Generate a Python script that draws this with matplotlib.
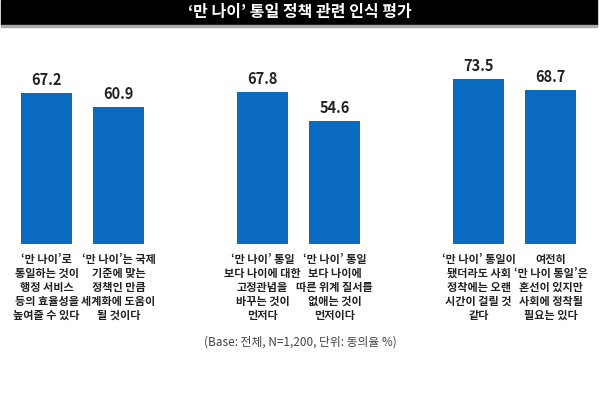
import numpy as np
import matplotlib.pyplot as plt
from matplotlib.patches import Rectangle

plt.rcParams['font.family'] = ['Noto Sans CJK KR', 'DejaVu Sans']

title = "‘만 나이’ 통일 정책 관련 인식 평가"
positions = [0, 1, 3, 4, 6, 7]
values = [67.2, 60.9, 67.8, 54.6, 73.5, 68.7]
value_labels = ["67.2", "60.9", "67.8", "54.6", "73.5", "68.7"]
categories = [
    "‘만 나이’로\n통일하는 것이\n행정 서비스\n등의 효율성을\n높여줄 수 있다",
    "‘만 나이’는 국제\n기준에 맞는\n정책인 만큼\n세계화에 도움이\n될 것이다",
    "‘만 나이’ 통일\n보다 나이에 대한\n고정관념을\n바꾸는 것이\n먼저다",
    "‘만 나이’ 통일\n보다 나이에\n따른 위계 질서를\n없애는 것이\n먼저이다",
    "‘만 나이’ 통일이\n됐더라도 사회\n정착에는 오랜\n시간이 걸릴 것\n같다",
    "여전히\n‘만 나이 통일’은\n혼선이 있지만\n사회에 정착될\n필요는 있다",
]
note = "(Base: 전체, N=1,200, 단위: 동의율 %)"

fig = plt.figure(figsize=(6, 3.95), dpi=100)
ax = fig.add_axes([0, 0, 1, 1])
ax.set_xlim(-0.646, 7.6875)
ax.set_ylim(-67.2, 108.6)
ax.axis('off')

ax.bar(positions, values, width=0.71, color='#0a6ac0')
for x, v, lab in zip(positions, values, value_labels):
    ax.text(x, v + 2.2, lab, ha='center', va='bottom', fontsize=10.5,
            fontweight='bold', color='#222222')
for x, cat in zip(positions, categories):
    ax.text(x, -4.0, cat, ha='center', va='top', fontsize=8, fontweight='bold',
            color='#222222', linespacing=1.1)

# title bar
fig.patches.append(Rectangle((0.002, 1 - 25 / 395), 0.993, 25 / 395,
                             transform=fig.transFigure, color='black'))
fig.patches.append(Rectangle((0.002, 1 - 27 / 395), 0.993, 2 / 395,
                             transform=fig.transFigure, color='#aaaaaa'))
fig.text(0.5, 1 - 12.5 / 395, title, ha='center', va='center', color='white',
         fontsize=11.5, fontweight='bold')
fig.text(0.5, 1 - 342 / 395, note, ha='center', va='center', color='#444444',
         fontsize=8.5)

fig.savefig('out.png', dpi=100, facecolor='white')
